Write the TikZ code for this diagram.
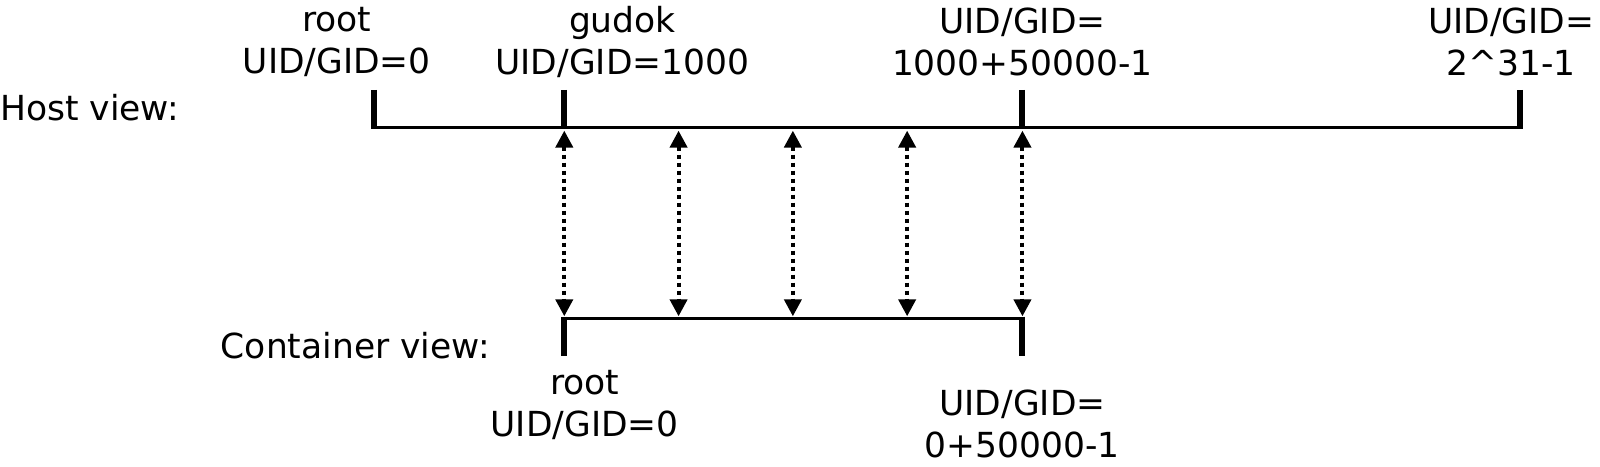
\documentclass[tikz,border=0pt]{standalone}
\usepackage{fontspec}
\setmainfont{DejaVu Sans}
\usetikzlibrary{calc, arrows.meta}
\tikzset{>={Triangle[width=17pt,length=17pt]}}
\tikzset{
  lbl/.style={align=center, inner sep=0pt, font=\fontsize{34.5}{42}\selectfont},
  axis/.style={line width=3.3pt},
  tick/.style={line width=6pt},
  mapping/.style={<->, line width=4pt, dash pattern=on 4pt off 4pt},
}

\begin{document}
\begin{tikzpicture}[x=1.0204pt, y=-1.0204pt]
  \useasboundingbox (0,0) rectangle (1568,457.65);

  % host axis
  \coordinate (H0) at (367,125);
  \coordinate (H1) at (553,125);
  \coordinate (H2) at (1002,125);
  \coordinate (H3) at (1490,125);
  \coordinate (H0t) at (367,88);
  \coordinate (H1t) at (553,88);
  \coordinate (H2t) at (1002,88);
  \coordinate (H3t) at (1490,88);

  % container axis
  \coordinate (C0) at (553,312);
  \coordinate (C1) at (1002,312);
  \coordinate (C0t) at (553,349);
  \coordinate (C1t) at (1002,349);

  \node[lbl, anchor=west] (HOST) at (0,105) {Host view:};
  \node[lbl, anchor=east] (CONT) at (480,339) {Container view:};

  \node[lbl] (HROOT) at (330,41) {root\\UID/GID=0};
  \node[lbl] (HUSER) at (610,41) {gudok\\UID/GID=1000};
  \node[lbl] (HEND) at (1002,41) {UID/GID=\\1000+50000-1};
  \node[lbl] (HMAX) at (1481,41) {UID/GID=\\2\^{}31-1};

  \node[lbl] (CROOT) at (573,397) {root\\UID/GID=0};
  \node[lbl] (CEND) at (1002,415) {UID/GID=\\0+50000-1};

  \draw[axis] (H0) -- (H3);
  \draw[tick] (H0t) -- ($(H0)+(0,1.65)$);
  \draw[tick] (H1t) -- ($(H1)+(0,1.65)$);
  \draw[tick] (H2t) -- ($(H2)+(0,1.65)$);
  \draw[tick] (H3t) -- ($(H3)+(0,1.65)$);

  \draw[axis] (C0) -- (C1);
  \draw[tick] ($(C0)+(0,-1.65)$) -- (C0t);
  \draw[tick] ($(C1)+(0,-1.65)$) -- (C1t);

  % id mappings
  \foreach \x [count=\i] in {553,665,777,889,1002} {
    \coordinate (M\i a) at (\x,128);
    \coordinate (M\i b) at (\x,310);
    \draw[mapping] (M\i a) -- (M\i b);
  }
\end{tikzpicture}
\end{document}
